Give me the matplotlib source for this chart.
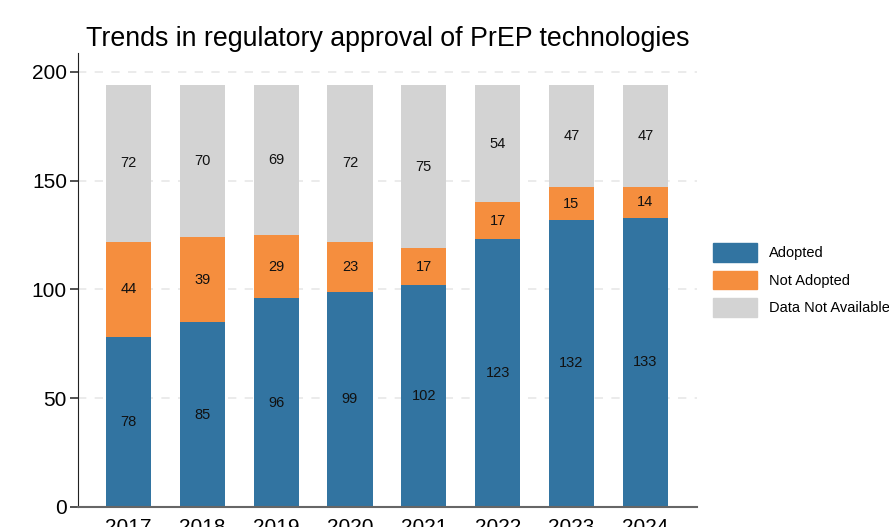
import numpy as np
import matplotlib.pyplot as plt
from matplotlib.patches import Patch

# ── Data ─────────────────────────────────────────────────────────
years = ['2017', '2018', '2019', '2020', '2021', '2022', '2023', '2024']
adopted = [78, 85, 96, 99, 102, 123, 132, 133]
not_adopted = [44, 39, 29, 23, 17, 17, 15, 14]
not_available = [72, 70, 69, 72, 75, 54, 47, 47]

COL_ADOPT = '#3274a1'
COL_NOT = '#f58e3e'
COL_NA = '#d3d3d3'

NARROW = ['Liberation Sans Narrow', 'Liberation Sans', 'DejaVu Sans']
REG = ['Liberation Sans', 'DejaVu Sans']

fig = plt.figure(figsize=(8.89, 5.27), dpi=100)
ax = fig.add_axes([78 / 889, (527 - 507) / 527, (697 - 78) / 889, (507 - 53) / 527])

x = np.arange(len(years))
w = 0.61
adopted = np.array(adopted)
not_adopted = np.array(not_adopted)
not_available = np.array(not_available)

ax.bar(x, adopted, w, color=COL_ADOPT, zorder=2)
ax.bar(x, not_adopted, w, bottom=adopted, color=COL_NOT, zorder=2)
ax.bar(x, not_available, w, bottom=adopted + not_adopted, color=COL_NA, zorder=2)

# segment labels
for i in range(len(years)):
    segs = [(0, adopted[i]), (adopted[i], not_adopted[i]),
            (adopted[i] + not_adopted[i], not_available[i])]
    for b, h in segs:
        ax.text(x[i], b + h / 2, str(h), ha='center', va='center',
                fontsize=10.5, color='#111111', family=REG, zorder=3)

ax.set_xlim(-0.684, 7.70)
ax.set_ylim(0, 208.7)
ax.set_yticks([0, 50, 100, 150, 200])
ax.set_xticks(x)
ax.set_xticklabels(years)
ax.yaxis.grid(True, ls=(0, (5, 5)), color='#e8e8e8', lw=1.2, zorder=0)

for lab in ax.get_yticklabels() + ax.get_xticklabels():
    lab.set_family(NARROW)
    lab.set_fontsize(15)
ax.tick_params(axis='y', length=6, width=1.2, color='#333333', pad=2)
ax.tick_params(axis='x', length=0, pad=8)

ax.spines['top'].set_visible(False)
ax.spines['right'].set_visible(False)
ax.spines['left'].set_color('#222222')
ax.spines['bottom'].set_color('#666666')
ax.spines['bottom'].set_linewidth(1.5)

ax.set_title('Trends in regulatory approval of PrEP technologies',
             fontsize=19.3, family=NARROW, pad=5)

handles = [Patch(color=COL_ADOPT, label='Adopted'),
           Patch(color=COL_NOT, label='Not Adopted'),
           Patch(color=COL_NA, label='Data Not Available')]
fig.legend(handles=handles, loc='center left', bbox_to_anchor=(700 / 889, 1 - 280 / 527),
           frameon=False, prop={'family': REG, 'size': 10.5},
           handlelength=3.0, handleheight=1.6, labelspacing=0.6, handletextpad=0.8)

fig.savefig('out.png', dpi=100)
